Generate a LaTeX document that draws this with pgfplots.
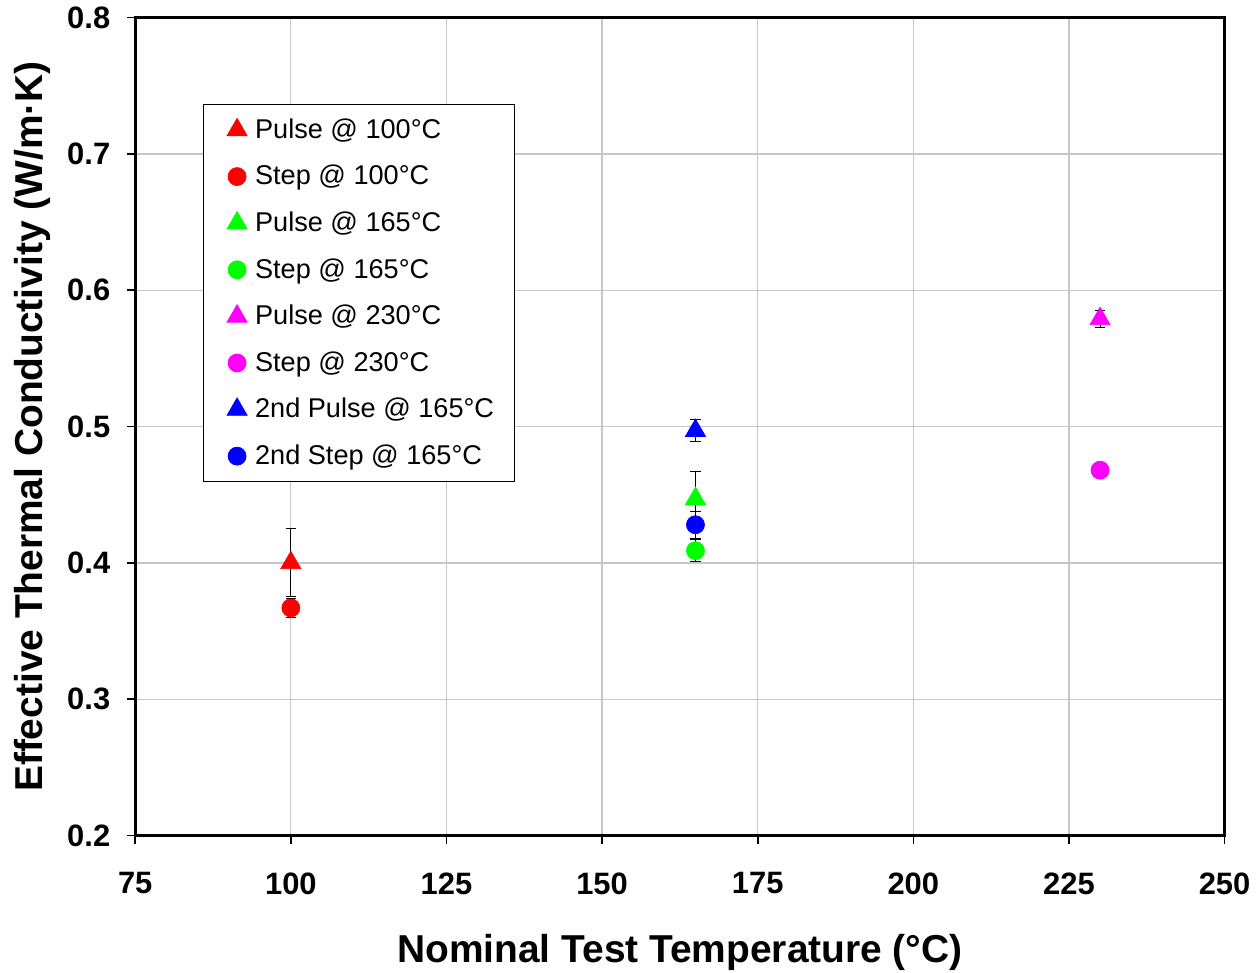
\documentclass[border=0pt]{standalone}
\usepackage{fontspec}
\setmainfont{Liberation Sans}
\usepackage{pgfplots}
\pgfplotsset{compat=1.18}

\definecolor{pgreen}{RGB}{0,255,0}
\definecolor{pmag}{RGB}{255,0,255}

\begin{document}
\begin{tikzpicture}
\begin{axis}[
    width=546pt, height=410pt, scale only axis,
    xmin=75, xmax=250, ymin=0.2, ymax=0.8,
    xtick={75,100,...,250},
    ytick={0.2,0.3,...,0.8},
    xtick pos=bottom, ytick pos=left,
    yticklabel style={xshift=-5pt, /pgf/number format/fixed,
        /pgf/number format/fixed zerofill, /pgf/number format/precision=1},
    /pgf/number format/assume math mode=true,
    ticklabel style={font=\fontsize{15.5}{18}\selectfont\bfseries},
    xticklabel style={yshift=-11pt},
    tick align=outside, major tick length=4pt,
    tick style={black, line width=0.8pt},
    axis line style={line width=1.5pt},
    grid=major,
    grid style={gray!45, line width=0.6pt},
    xlabel={Nominal Test Temperature (°C)},
    ylabel={Effective Thermal Conductivity (W/m·K)},
    label style={font=\fontsize{19.5}{22}\selectfont\bfseries},
    xlabel style={inner ysep=1pt, yshift=-15.5pt},
    ylabel style={inner ysep=7pt, yshift=-2pt},
    legend style={at={(0.062,0.894)}, anchor=north west, draw=black, thin,
        font=\fontsize{13.6}{16}\selectfont, row sep=8pt, column sep=2pt,
        inner xsep=8pt, inner ysep=5pt, cells={anchor=west}},
    legend cell align=left,
    legend image code/.code={\path[draw=none, fill=none] (0.3cm-9pt,0) -- (0.3cm,0);
        \draw[#1] plot coordinates {(0.3cm,0cm)};},
    error bars/error bar style={black, line width=0.5pt},
    error bars/error mark options={black, rotate=90, mark size=2.6pt, line width=0.5pt},
]
\addplot[only marks, mark=triangle*, mark size=5.8pt, color=red,
    error bars/.cd, y dir=both, y explicit]
    coordinates {(100,0.400) +- (0,0.025)};
\addlegendentry{Pulse @ 100°C}
\addplot[only marks, mark=*, mark size=4.5pt, color=red,
    error bars/.cd, y dir=both, y explicit]
    coordinates {(100,0.367) +- (0,0.007)};
\addlegendentry{Step @ 100°C}
\addplot[only marks, mark=triangle*, mark size=5.8pt, color=pgreen,
    error bars/.cd, y dir=both, y explicit]
    coordinates {(165,0.447) +- (0,0.020)};
\addlegendentry{Pulse @ 165°C}
\addplot[only marks, mark=*, mark size=4.5pt, color=pgreen,
    error bars/.cd, y dir=both, y explicit]
    coordinates {(165,0.409) +- (0,0.008)};
\addlegendentry{Step @ 165°C}
\addplot[only marks, mark=triangle*, mark size=5.8pt, color=pmag,
    error bars/.cd, y dir=both, y explicit]
    coordinates {(230,0.579) +- (0,0.006)};
\addlegendentry{Pulse @ 230°C}
\addplot[only marks, mark=*, mark size=4.5pt, color=pmag,
    error bars/.cd, y dir=both, y explicit]
    coordinates {(230,0.468) +- (0,0.005)};
\addlegendentry{Step @ 230°C}
\addplot[only marks, mark=triangle*, mark size=5.8pt, color=blue,
    error bars/.cd, y dir=both, y explicit]
    coordinates {(165,0.497) +- (0,0.008)};
\addlegendentry{2nd Pulse @ 165°C}
\addplot[only marks, mark=*, mark size=4.5pt, color=blue,
    error bars/.cd, y dir=both, y explicit]
    coordinates {(165,0.428) +- (0,0.010)};
\addlegendentry{2nd Step @ 165°C}
\end{axis}
\end{tikzpicture}
\end{document}
